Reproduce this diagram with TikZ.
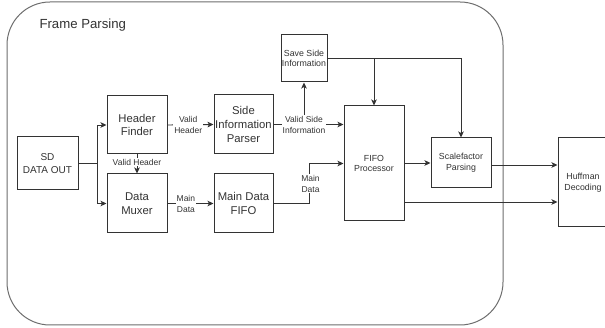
\documentclass[tikz,border=0pt]{standalone}
\usepackage{fontspec}
\setmainfont{Liberation Sans}
\usetikzlibrary{arrows.meta,calc}
\definecolor{ink}{HTML}{333333}
\definecolor{frame}{HTML}{6E6E6E}
\begin{document}
\begin{tikzpicture}[x=1pt,y=-1pt,
  box/.style={draw=ink,line width=1pt,text=ink,align=center,inner sep=0pt},
  big/.style={box,font=\fontsize{11.3}{13.7}\selectfont},
  small/.style={box,font=\fontsize{8.8}{10.7}\selectfont},
  lbl/.style={fill=white,text=ink,align=center,inner sep=1pt,font=\fontsize{8.5}{11}\selectfont},
  wire/.style={draw=ink,line width=0.9pt},
  arr/.style={wire,-{Stealth[length=6pt,width=5.5pt,inset=1.5pt]}}]
\useasboundingbox (0,0) rectangle (605,328);
\fill[white] (0,0) rectangle (605,328);
% outer frame
\draw[frame,line width=1pt,rounded corners=43pt] (7,2) rectangle (503,325);
\node[anchor=west,text=ink,font=\fontsize{13.2}{15}\selectfont] (title) at (36,25) {Frame Parsing};
% boxes
\node[big,minimum width=61pt,minimum height=53pt,font=\fontsize{10}{12.5}\selectfont] (sd) at (47.5,163.5) {SD\\DATA OUT};
\node[big,minimum width=60pt,minimum height=58pt] (hf) at (137,125) {Header\\Finder};
\node[big,minimum width=60pt,minimum height=59pt] (dm) at (137,203.5) {Data\\Muxer};
\node[big,minimum width=59pt,minimum height=59pt] (sip) at (243.5,124.5) {Side\\Information\\Parser};
\node[big,minimum width=59pt,minimum height=59pt] (mdf) at (243.5,203.5) {Main Data\\FIFO};
\node[small,minimum width=46pt,minimum height=47pt] (ssi) at (304,58.5) {Save Side\\Information};
\node[small,minimum width=60pt,minimum height=115pt] (fifo) at (374,163.5) {FIFO\\Processor};
\node[small,minimum width=60pt,minimum height=50pt] (sf) at (461,163) {Scalefactor\\Parsing};
\node[small,minimum width=50pt,minimum height=89pt] (huff) at (583,182.5) {Huffman\\Decoding};
% connectors
\coordinate (j1) at ($(sd.east)+(19,0)$);
\draw[wire] (sd.east) -- (j1);
\draw[arr] (j1) |- (hf.west);
\draw[arr] (j1) |- (dm.west);
\draw[arr] (hf.south) -- node[lbl,pos=0.4]{Valid Header} (dm.north);
\draw[arr] (hf.east) -- node[lbl,pos=0.45]{Valid\\Header} (sip.west);
\draw[arr] (dm.east) -- node[lbl,pos=0.4]{Main\\Data} (mdf.west);
\node[lbl] (vsl) at (ssi.south |- sip.east) {Valid Side\\Information};
\draw[wire] (sip.east) -- (vsl.west);
\draw[arr] (vsl.east) -- (vsl.east -| fifo.west);
\draw[arr] (vsl.north) -- (ssi.south);
\coordinate (j2) at (fifo.north |- ssi.east);
\draw[wire] (ssi.east) -- (j2);
\draw[arr] (j2) -- (fifo.north);
\draw[arr] (j2) -| (sf.north);
\coordinate (j3) at ($(mdf.east)+(36,0)$);
\draw[arr] (mdf.east) -- (j3) |- (fifo.west);
\node[lbl] (mdl) at ($(j3)+(1,-20)$) {Main\\Data};
\coordinate (f1) at (fifo.east |- sf.west);
\draw[arr] (f1) -- (sf.west);
\coordinate (s2) at ($(sf.east)+(0,2)$);
\coordinate (h1) at (s2 -| huff.west);
\draw[arr] (s2) -- (h1);
\coordinate (f2) at ($(fifo.east)+(0,38.5)$);
\coordinate (h2) at (f2 -| huff.west);
\draw[arr] (f2) -- (h2);
\end{tikzpicture}
\end{document}
